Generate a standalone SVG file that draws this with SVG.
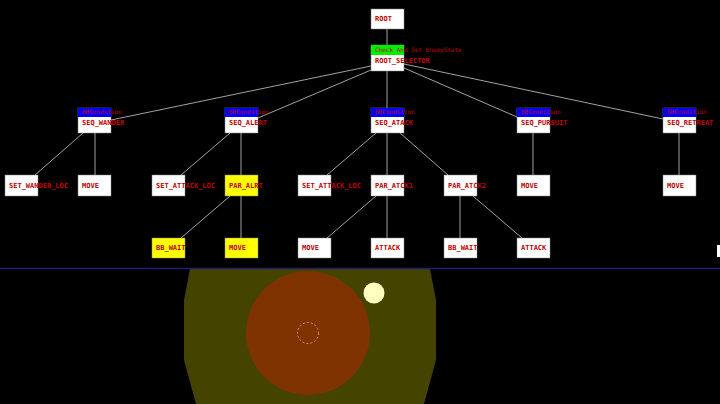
<svg xmlns="http://www.w3.org/2000/svg" width="720" height="404" viewBox="0 0 720 404">
<style>
.b{fill:#fff;stroke:#888;stroke-width:0.5}
.y{fill:#ffff00}
.h{fill:#0000ff}
.g{fill:#00ee00}
text{font-family:"DejaVu Sans Mono","Liberation Mono",monospace;font-size:7px;fill:#c00000;font-weight:bold}
.s{font-size:6px;font-weight:normal}
#edges line{stroke:#ccc;stroke-width:0.8}
</style>
<rect width="720" height="404" fill="#000"/>
<g id="scene">
<polygon points="190,269 430,269 436,300 436,360 424,404 196,404 184,360 184,300" fill="#444400"/>
<circle cx="308" cy="333" r="62" fill="#7f3300"/>
<circle cx="308" cy="333" r="10.5" fill="none" stroke="#e8b080" stroke-width="0.8" stroke-dasharray="2,2"/>
<circle cx="374" cy="293" r="10.5" fill="#ffffc0"/>
<line x1="0" y1="268.5" x2="720" y2="268.5" stroke="#202070" stroke-width="1.5"/>
<rect x="717" y="245" width="3" height="12" fill="#fff"/>
</g>
<g id="edges">
<line x1="387" y1="29" x2="387" y2="45"/>
<line x1="371" y1="66" x2="111" y2="120"/>
<line x1="371" y1="70" x2="258" y2="118"/>
<line x1="387" y1="71" x2="387" y2="108"/>
<line x1="404" y1="68" x2="517" y2="117"/>
<line x1="404" y1="64" x2="663" y2="119"/>
<line x1="83" y1="133" x2="35" y2="175"/>
<line x1="95" y1="133" x2="95" y2="175"/>
<line x1="230" y1="133" x2="181" y2="175"/>
<line x1="241" y1="133" x2="241" y2="175"/>
<line x1="376" y1="133" x2="327" y2="175"/>
<line x1="387" y1="133" x2="387" y2="175"/>
<line x1="400" y1="133" x2="448" y2="175"/>
<line x1="533" y1="133" x2="533" y2="175"/>
<line x1="679" y1="133" x2="679" y2="175"/>
<line x1="230" y1="196" x2="181" y2="238"/>
<line x1="241" y1="196" x2="241" y2="238"/>
<line x1="376" y1="196" x2="327" y2="238"/>
<line x1="387" y1="196" x2="387" y2="238"/>
<line x1="460" y1="196" x2="460" y2="238"/>
<line x1="473" y1="196" x2="522" y2="238"/>
</g>
<g id="n-root"><rect class="b" x="371" y="9" width="33" height="20"/><text x="375" y="21">ROOT</text></g>
<g id="n-sel"><rect class="b" x="371" y="45" width="33" height="26"/><rect class="g" x="371" y="45" width="33" height="10"/><text class="s" x="375" y="52">Check And Set EnemyState</text><text x="375" y="63">ROOT_SELECTOR</text></g>
<g id="n-wander"><rect class="b" x="78" y="108" width="33" height="25"/><rect class="h" x="78" y="108" width="33" height="9"/><text class="s" x="82" y="114">BBCondition</text><text x="82" y="125">SEQ_WANDER</text></g>
<g id="n-alert"><rect class="b" x="225" y="108" width="33" height="25"/><rect class="h" x="225" y="108" width="33" height="9"/><text class="s" x="229" y="114">BBCondition</text><text x="229" y="125">SEQ_ALERT</text></g>
<g id="n-atack"><rect class="b" x="371" y="108" width="33" height="25"/><rect class="h" x="371" y="108" width="33" height="9"/><text class="s" x="375" y="114">BBCondition</text><text x="375" y="125">SEQ_ATACK</text></g>
<g id="n-pursuit"><rect class="b" x="517" y="108" width="33" height="25"/><rect class="h" x="517" y="108" width="33" height="9"/><text class="s" x="521" y="114">BBCondition</text><text x="521" y="125">SEQ_PURSUIT</text></g>
<g id="n-retreat"><rect class="b" x="663" y="108" width="33" height="25"/><rect class="h" x="663" y="108" width="33" height="9"/><text class="s" x="667" y="114">BBCondition</text><text x="667" y="125">SEQ_RETREAT</text></g>
<g id="n-swl"><rect class="b" x="5" y="175" width="33" height="21"/><text x="9" y="188">SET_WANDER_LOC</text></g>
<g id="n-move1"><rect class="b" x="78" y="175" width="33" height="21"/><text x="82" y="188">MOVE</text></g>
<g id="n-sal1"><rect class="b" x="152" y="175" width="33" height="21"/><text x="156" y="188">SET_ATTACK_LOC</text></g>
<g id="n-paralrt"><rect class="b y" x="225" y="175" width="33" height="21"/><text x="229" y="188">PAR_ALRT</text></g>
<g id="n-sal2"><rect class="b" x="298" y="175" width="33" height="21"/><text x="302" y="188">SET_ATTACK_LOC</text></g>
<g id="n-patck1"><rect class="b" x="371" y="175" width="33" height="21"/><text x="375" y="188">PAR_ATCK1</text></g>
<g id="n-patck2"><rect class="b" x="444" y="175" width="33" height="21"/><text x="448" y="188">PAR_ATCK2</text></g>
<g id="n-move2"><rect class="b" x="517" y="175" width="33" height="21"/><text x="521" y="188">MOVE</text></g>
<g id="n-move3"><rect class="b" x="663" y="175" width="33" height="21"/><text x="667" y="188">MOVE</text></g>
<g id="n-bbw1"><rect class="b y" x="152" y="238" width="33" height="20"/><text x="156" y="250">BB_WAIT</text></g>
<g id="n-move4"><rect class="b y" x="225" y="238" width="33" height="20"/><text x="229" y="250">MOVE</text></g>
<g id="n-move5"><rect class="b" x="298" y="238" width="33" height="20"/><text x="302" y="250">MOVE</text></g>
<g id="n-atk1"><rect class="b" x="371" y="238" width="33" height="20"/><text x="375" y="250">ATTACK</text></g>
<g id="n-bbw2"><rect class="b" x="444" y="238" width="33" height="20"/><text x="448" y="250">BB_WAIT</text></g>
<g id="n-atk2"><rect class="b" x="517" y="238" width="33" height="20"/><text x="521" y="250">ATTACK</text></g>
</svg>
